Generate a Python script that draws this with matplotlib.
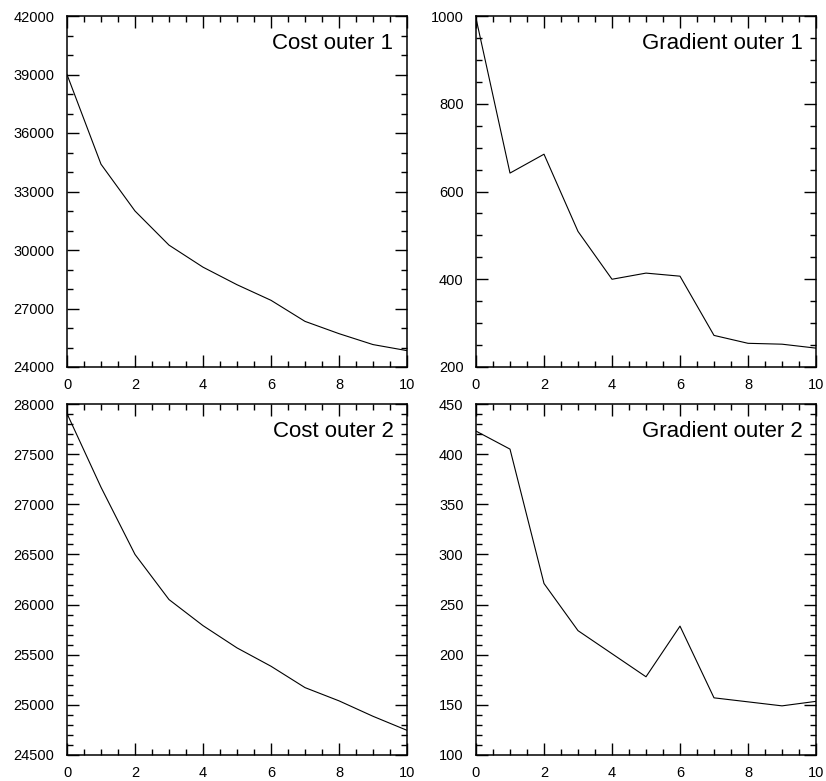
import numpy as np
import matplotlib
matplotlib.use("Agg")
import matplotlib.pyplot as plt
from matplotlib.ticker import MultipleLocator

plt.rcParams['font.family'] = ['Liberation Sans', 'DejaVu Sans']

iters = list(range(11))
cost1 = [39000, 34400, 32000, 30250, 29120, 28220, 27420, 26340, 25710, 25150, 24840]
grad1 = [995, 642, 685, 509, 400, 414, 407, 272, 254, 252, 243]
cost2 = [27905, 27170, 26500, 26050, 25790, 25568, 25385, 25172, 25040, 24886, 24746]
grad2 = [423, 405, 271, 224, 201, 178, 228.5, 157, 153, 149, 153.5]

titles = ["Cost outer 1", "Gradient outer 1", "Cost outer 2", "Gradient outer 2"]
series = [cost1, grad1, cost2, grad2]
ylims = [(24000, 42000), (200, 1000), (24500, 28000), (100, 450)]
ymajor = [3000, 200, 500, 50]
yminor = [1000, 50, 100, 10]

fig = plt.figure(figsize=(8.26, 7.81), dpi=100)
W, H = 826, 781
boxes = [(67, 16), (476, 16), (67, 404), (476, 404)]
aw, ah = 340, 351

for i in range(4):
    x0, y0 = boxes[i]
    ax = fig.add_axes([x0 / W, 1 - (y0 + ah) / H, aw / W, ah / H])
    ax.plot(iters, series[i], color='black', lw=0.8)
    ax.set_xlim(0, 10)
    ax.set_ylim(*ylims[i])
    ax.xaxis.set_major_locator(MultipleLocator(2))
    ax.xaxis.set_minor_locator(MultipleLocator(0.5))
    ax.yaxis.set_major_locator(MultipleLocator(ymajor[i]))
    ax.yaxis.set_minor_locator(MultipleLocator(yminor[i]))
    ax.tick_params(which='both', direction='in', top=True, right=True, width=1)
    ax.tick_params(which='major', length=8.5, labelsize=10.5)
    ax.tick_params(which='minor', length=4.3)
    ax.tick_params(axis='x', pad=8)
    ax.tick_params(axis='y', pad=9)
    for s in ax.spines.values():
        s.set_linewidth(1.1)
    ax.text(0.96, 0.922, titles[i], transform=ax.transAxes, ha='right', va='center', fontsize=16)

fig.savefig("out.png", dpi=100)
